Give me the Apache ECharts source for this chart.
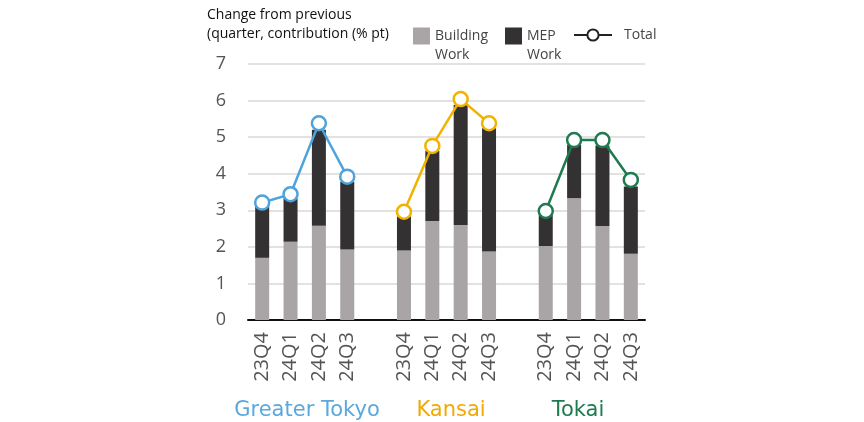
<!DOCTYPE html>
<html>
<head>
    <meta charset="utf-8" />
    <title>Contribution by region</title>
    <style>
        html, body { margin: 0; padding: 0; background: #fff; }
        #chart { width: 864px; height: 422px; }
    </style>
</head>
<body>
    <div id="chart"></div>
    <script src="https://cdn.jsdelivr.net/npm/echarts@6/dist/echarts.min.js"></script>
    <script>
        // quarters shown under every region
        var quarters = ['23Q4', '24Q1', '24Q2', '24Q3'];
        var regions = ['Greater Tokyo', 'Kansai', 'Tokai'];
        var regionColors = ['#4ea3dc', '#f2b300', '#1e7b50'];
        var labelColors = ['#5aa8de', '#f2a900', '#1e7b50'];

        // building work contribution (% pt)
        var building = [
            [1.70, 2.14, 2.58, 1.93],
            [1.90, 2.71, 2.60, 1.87],
            [2.02, 3.33, 2.57, 1.81]
        ];
        // MEP work contribution (% pt)
        var mep = [
            [1.40, 1.19, 2.62, 1.85],
            [0.93, 1.92, 3.28, 3.37],
            [0.85, 1.46, 2.20, 1.84]
        ];
        // total change (% pt)
        var total = [
            [3.21, 3.44, 5.38, 3.92],
            [2.96, 4.76, 6.04, 5.38],
            [2.98, 4.92, 4.92, 3.83]
        ];

        // lay the three groups on one category axis with an empty slot between them
        var cats = [], buildData = [], mepData = [], totalLines = [[], [], []];
        regions.forEach(function (r, g) {
            if (g > 0) {
                cats.push('');
                buildData.push(null);
                mepData.push(null);
                totalLines.forEach(function (l) { l.push(null); });
            }
            quarters.forEach(function (q, i) {
                cats.push(q);
                buildData.push(building[g][i]);
                mepData.push(mep[g][i]);
                totalLines.forEach(function (l, k) { l.push(k === g ? total[g][i] : null); });
            });
        });

        var series = [
            { name: 'Building', type: 'bar', stack: 'c', barWidth: 14, data: buildData, itemStyle: { color: '#a9a5a7' } },
            { name: 'MEP', type: 'bar', stack: 'c', barWidth: 14, data: mepData, itemStyle: { color: '#333132' } },
            // legend only entry for the total line
            { name: 'Total', type: 'line', data: [], symbol: 'circle', symbolSize: 13,
              lineStyle: { color: '#222', width: 2.5 },
              itemStyle: { color: '#fff', borderColor: '#222', borderWidth: 2.5 } }
        ];
        regions.forEach(function (r, g) {
            series.push({
                name: r, type: 'line', data: totalLines[g], z: 5,
                symbol: 'circle', symbolSize: 14, connectNulls: false,
                lineStyle: { color: regionColors[g], width: 2.5 },
                itemStyle: { color: '#fff', borderColor: regionColors[g], borderWidth: 2.5 }
            });
        });

        // two line legend names, first line level with the square
        var legendText = {
            fontFamily: 'Open Sans', fontSize: 14, color: '#444',
            rich: {
                s: { lineHeight: 19, fontSize: 14 },
                a: { lineHeight: 19, fontSize: 14, color: '#444', fontFamily: 'Open Sans' }
            }
        };
        function twoLines(name) {
            return '{s| }\n{a|' + name + '}\n{a|Work}';
        }

        var myChart = echarts.init(document.getElementById('chart'));
        myChart.setOption({
            backgroundColor: '#fff',
            animation: false,
            title: {
                text: 'Change from previous\n(quarter, contribution (% pt)',
                left: 207, top: 6, padding: 0,
                textStyle: { fontFamily: 'Open Sans', fontSize: 14, fontWeight: 'normal', color: '#111', lineHeight: 19 }
            },
            legend: [
                { data: ['Building'], left: 408, top: 5, itemWidth: 17, itemHeight: 17, icon: 'rect', formatter: twoLines, textStyle: legendText },
                { data: ['MEP'], left: 500, top: 5, itemWidth: 17, itemHeight: 17, icon: 'rect', formatter: twoLines, textStyle: legendText },
                { data: ['Total'], left: 568, top: 23, itemWidth: 38, itemHeight: 14, textStyle: { fontFamily: 'Open Sans', fontSize: 14, color: '#444', padding: [0, 0, 0, 7] } }
            ],
            grid: { left: 248, right: 219, top: 64, bottom: 102 },
            xAxis: {
                type: 'category',
                data: cats,
                axisLine: { lineStyle: { color: '#111', width: 2 } },
                axisTick: { show: false },
                axisLabel: { rotate: 90, interval: 0, margin: 12, fontFamily: 'Open Sans', fontSize: 20, color: '#555' }
            },
            yAxis: {
                type: 'value',
                min: 0, max: 7, interval: 1,
                axisLine: { show: false },
                axisTick: { show: false },
                axisLabel: { margin: 22, fontFamily: 'Open Sans', fontSize: 18, color: '#555' },
                splitLine: { lineStyle: { color: '#d9d9d9', width: 1.5 } }
            },
            graphic: regions.map(function (r, g) {
                return {
                    type: 'text',
                    x: [307, 451, 578][g],
                    y: 400,
                    style: {
                        text: r, fill: labelColors[g],
                        font: '21px "DejaVu Sans"',
                        align: 'center', textAlign: 'center'
                    }
                };
            }),
            series: series
        });
    </script>
</body>
</html>
